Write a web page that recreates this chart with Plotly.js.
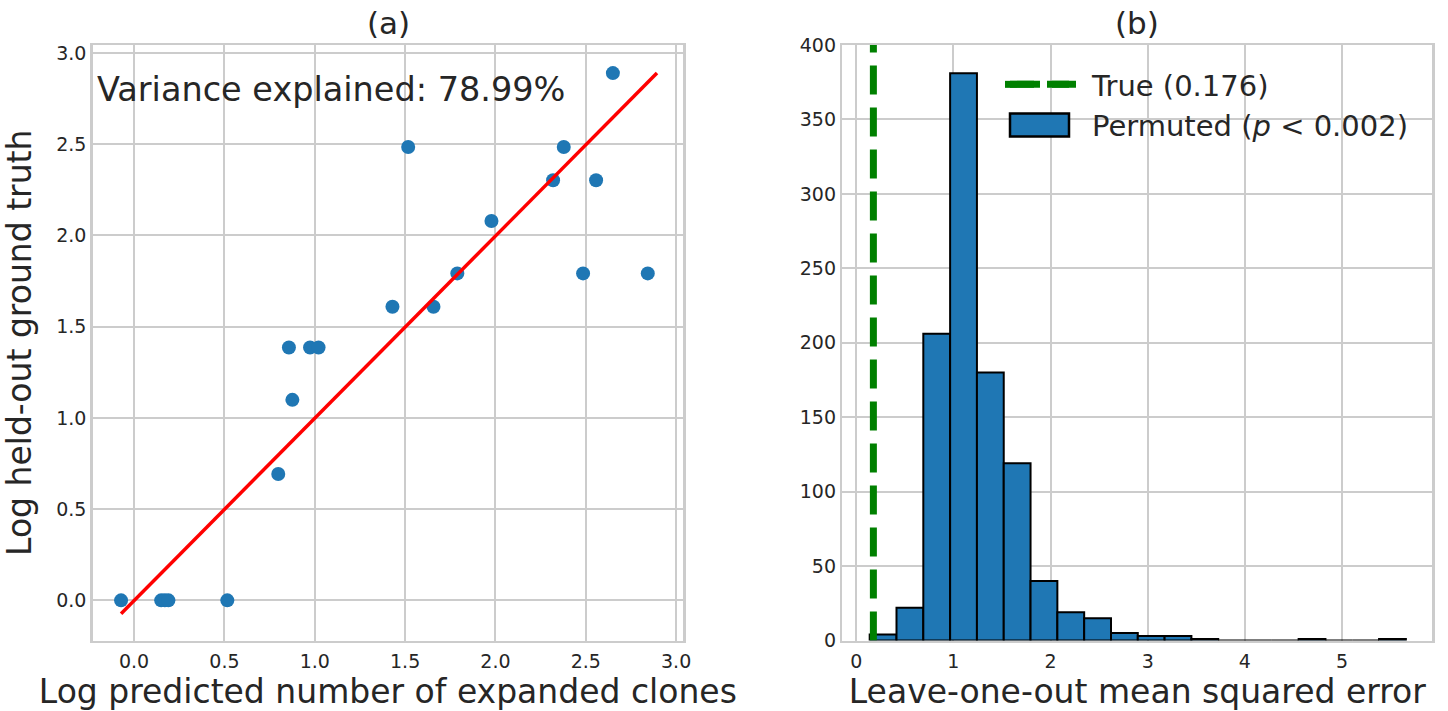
<!DOCTYPE html>
<html>
<head>
<meta charset="utf-8">
<script src="https://cdn.plot.ly/plotly-3.0.1.min.js"></script>
<style>
html,body{margin:0;padding:0;background:#fff;}
#chart{width:1448px;height:711px;}
</style>
</head>
<body>
<div id="chart"></div>
<script>
// ---- Panel (a): scatter of log predicted vs log held-out ----
var predX = [-0.072, 0.15, 0.17, 0.19, 0.516, 0.798, 0.857, 0.876, 0.974, 1.021, 1.430, 1.517, 1.657, 1.789, 1.978, 2.319, 2.378, 2.485, 2.557, 2.650, 2.843];
var truthY = [0, 0, 0, 0, 0, 0.693, 1.386, 1.099, 1.386, 1.386, 1.609, 2.485, 1.609, 1.792, 2.079, 2.303, 2.485, 1.792, 2.303, 2.890, 1.792];
var fitX = [-0.072, 2.894];
var fitY = [-0.073, 2.890];
var varianceText = "Variance explained: 78.99%";

// ---- Panel (b): histogram of permuted MSE ----
var binEdges = [0.138, 0.414, 0.690, 0.966, 1.242, 1.518, 1.794, 2.070, 2.346, 2.622, 2.898, 3.174, 3.450, 3.726, 4.002, 4.278, 4.554, 4.830, 5.106, 5.382, 5.658];
var binCounts = [4, 22, 206, 381, 180, 119, 40, 19, 15, 5, 3, 3, 1, 0, 0, 0, 1, 0, 0, 1];
var trueMSE = 0.176;
var histYMax = 400;
var trueLabel = "True (0.176)";
var permLabel = "Permuted (<i>p</i> &lt; 0.002)";

var centers = [], widths = [];
for (var i = 0; i < binCounts.length; i++) {
  centers.push((binEdges[i] + binEdges[i + 1]) / 2);
  widths.push(binEdges[i + 1] - binEdges[i]);
}

var FONT = "DejaVu Sans, Verdana, sans-serif";
var TXT = "#262626";
var GRID = "#cccccc";
var GREEN = "#008000";
var BLUE = "#1f77b4";

var traces = [
  {
    type: "scatter", mode: "lines", x: [trueMSE, trueMSE], y: [0, histYMax],
    xaxis: "x2", yaxis: "y2", name: trueLabel,
    line: { color: GREEN, width: 7, dash: "29px,13px" }
  },
  {
    type: "bar", x: centers, y: binCounts, width: widths,
    xaxis: "x2", yaxis: "y2", name: permLabel,
    marker: { color: BLUE, line: { color: "#000000", width: 2 } }
  },
  {
    type: "scatter", mode: "markers", x: predX, y: truthY,
    xaxis: "x", yaxis: "y", showlegend: false,
    marker: { color: BLUE, size: 14 }
  },
  {
    type: "scatter", mode: "lines", x: fitX, y: fitY,
    xaxis: "x", yaxis: "y", showlegend: false,
    line: { color: "#ff0000", width: 3.5 }
  }
];

function axis(extra) {
  var a = {
    showgrid: true, gridcolor: GRID, gridwidth: 2,
    showline: true, linecolor: GRID, linewidth: 2.5, mirror: true,
    zeroline: false, ticks: "",
    tickfont: { family: FONT, size: 19, color: TXT },
    fixedrange: true
  };
  for (var k in extra) a[k] = extra[k];
  return a;
}

var yDom = [1 - 640.5 / 711, 1 - 45 / 711];
var TITLEFONT = { family: FONT, size: 33, color: TXT };

var layout = {
  width: 1448, height: 711,
  margin: { l: 0, r: 0, t: 0, b: 0 },
  paper_bgcolor: "#ffffff", plot_bgcolor: "#ffffff",
  font: { family: FONT, color: TXT },
  showlegend: true,
  xaxis: axis({
    domain: [92.7 / 1448, 683 / 1448], anchor: "y", ticklabelstandoff: 2,
    range: [-0.229, 3.038], tickvals: [0, 0.5, 1, 1.5, 2, 2.5, 3],
    ticktext: ["0.0", "0.5", "1.0", "1.5", "2.0", "2.5", "3.0"],
    title: { text: "Log predicted number of expanded clones", font: TITLEFONT }
  }),
  yaxis: axis({
    domain: yDom, anchor: "x", ticklabelstandoff: 0,
    range: [-0.22, 3.044], tickvals: [0, 0.5, 1, 1.5, 2, 2.5, 3],
    ticktext: ["0.0", "0.5", "1.0", "1.5", "2.0", "2.5", "3.0"],
    title: { text: "Log held-out ground truth", font: TITLEFONT }
  }),
  xaxis2: axis({
    domain: [842.3 / 1448, 1432.3 / 1448], anchor: "y2", ticklabelstandoff: 2,
    range: [-0.144, 5.93], tickvals: [0, 1, 2, 3, 4, 5],
    title: { text: "Leave-one-out mean squared error", font: TITLEFONT }
  }),
  yaxis2: axis({
    domain: yDom, anchor: "x2", ticklabelstandoff: 0,
    range: [0, histYMax], tickvals: [0, 50, 100, 150, 200, 250, 300, 350, 400]
  }),
  bargap: 0,
  legend: {
    x: 1000 / 1448, xanchor: "left", y: 1 - 59 / 711, yanchor: "top",
    bgcolor: "rgba(0,0,0,0)", borderwidth: 0,
    font: { family: FONT, size: 29, color: TXT },
    traceorder: "normal", itemwidth: 82
  },
  annotations: [
    { xref: "paper", yref: "paper", x: 388 / 1448, y: 1 - 23 / 711, xanchor: "center", yanchor: "middle",
      text: "(a)", showarrow: false, font: { family: FONT, size: 31, color: TXT } },
    { xref: "paper", yref: "paper", x: 1137 / 1448, y: 1 - 23 / 711, xanchor: "center", yanchor: "middle",
      text: "(b)", showarrow: false, font: { family: FONT, size: 31, color: TXT } },
    { xref: "x domain", yref: "y domain", x: 0.004, y: 0.926, xanchor: "left", yanchor: "middle",
      text: varianceText, showarrow: false, font: { family: FONT, size: 33.5, color: TXT } }
  ]
};

// Matplotlib-style legend keys: a long dashed line and a wide outlined box
function restyleLegendKeys(gd) {
  var NS = "http://www.w3.org/2000/svg";
  var items = gd.querySelectorAll(".legend .traces");
  for (var i = 0; i < items.length; i++) {
    var item = items[i];
    var text = item.querySelector("text.legendtext");
    var pts = item.querySelector(".legendpoints");
    if (!text || !pts) continue;
    var tx = parseFloat(text.getAttribute("x")) || 0;
    pts.setAttribute("opacity", "0");
    var x0 = tx - 82, w = 59;
    var el = document.createElementNS(NS, "path");
    if (i === 0) {
      el.setAttribute("d", "M" + x0 + ",0h" + w);
      el.style.stroke = GREEN;
      el.style.strokeWidth = "7px";
      el.style.strokeDasharray = "30px,12px";
      el.style.fill = "none";
    } else {
      el.setAttribute("d", "M" + x0 + ",-11.5h" + w + "v23h-" + w + "Z");
      el.style.fill = BLUE;
      el.style.stroke = "#000000";
      el.style.strokeWidth = "2.5px";
    }
    item.appendChild(el);
  }
}

var gd = document.getElementById("chart");
Plotly.newPlot(gd, traces, layout, { displayModeBar: false, staticPlot: true }).then(function () {
  restyleLegendKeys(gd);
});
</script>
</body>
</html>
